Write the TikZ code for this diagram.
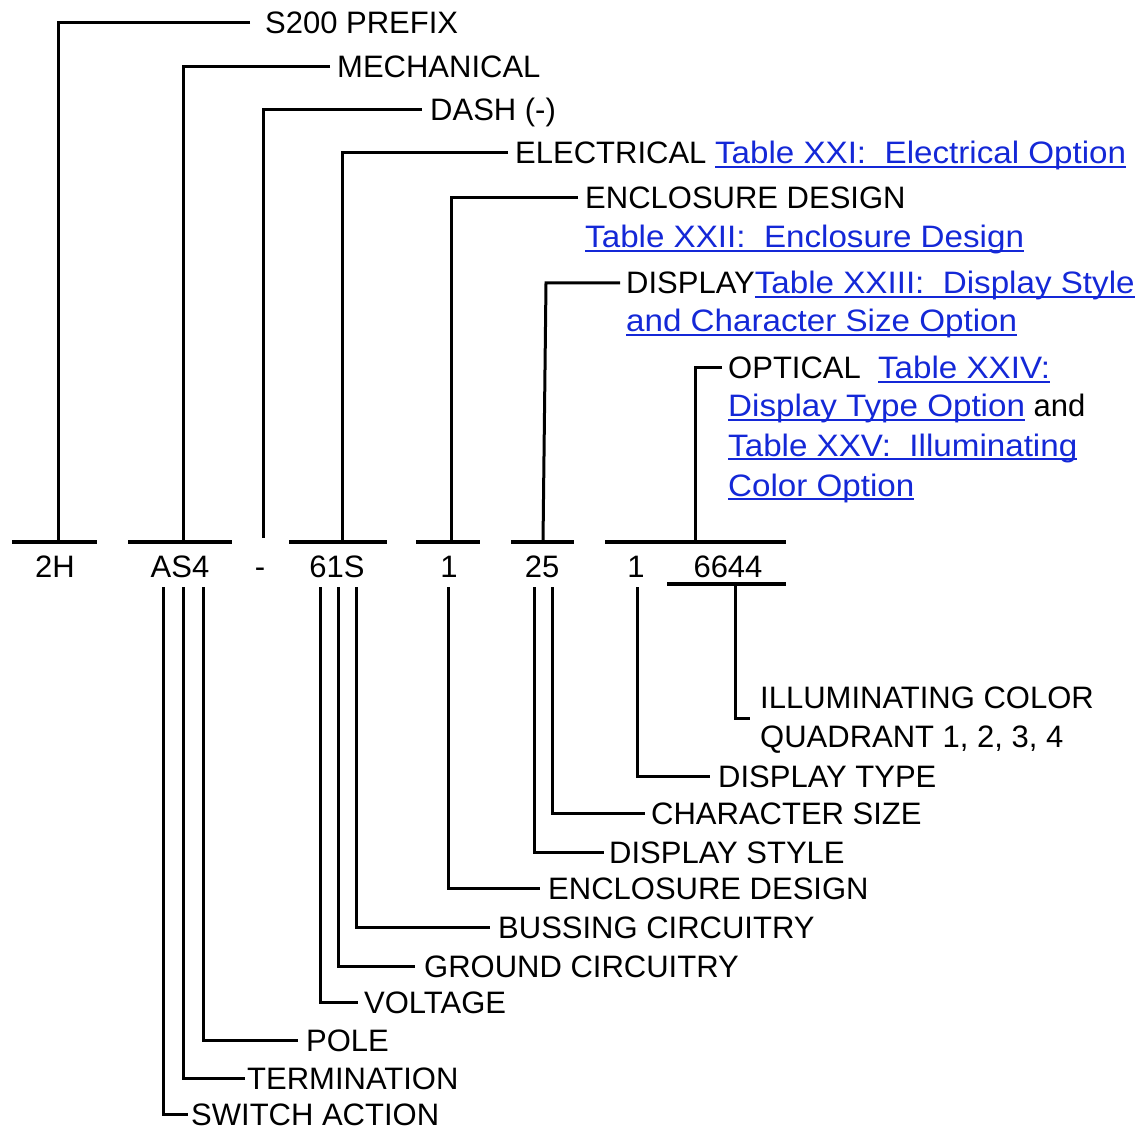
\documentclass[tikz,border=0pt]{standalone}
\usepackage{fontspec}
\setmainfont{Liberation Sans}
\newfontfamily\lnkfont[FakeStretch=1.07]{Liberation Sans}
\definecolor{linkblue}{RGB}{20,40,215}
% underlined link text
\newcommand\tbl[1]{{\lnkfont\color{linkblue}\setbox0\hbox{#1}\rlap{\rule[-4pt]{\wd0}{2pt}}\box0}}
\tikzset{
  lbl/.style={anchor=west, inner sep=0pt, text height=22pt, text depth=0pt,
    font=\fontsize{31}{37}\selectfont},
  code/.style={inner sep=0pt, text height=22pt, text depth=0pt,
    font=\fontsize{31}{37}\selectfont},
  lead/.style={line width=3pt},
  bar/.style={line width=4.5pt}
}
\begin{document}
\begin{tikzpicture}[x=1pt,y=-1pt]
  \useasboundingbox (0,0) rectangle (1143,1131);

  % Part number
  \node[code] (c2h)  at (55,566)  {2H};
  \node[code] (cas4) at (180,566) {AS4};
  \node[code] (cdsh) at (260,566) {-};
  \node[code] (c61s) at (337,566) {61S};
  \node[code] (c1)   at (449,566) {1};
  \node[code] (c25)  at (542,566) {25};
  \node[code] (c1b)  at (636,566) {1};
  \node[code] (c6644) at (728,566) {6644};

  % Bars over the groups
  \draw[bar] (12,542) -- (97,542);
  \draw[bar] (128,542) -- (232,542);
  \draw[bar] (289,542) -- (387,542);
  \draw[bar] (416,542) -- (480,542);
  \draw[bar] (511,542) -- (574,542);
  \draw[bar] (605,542) -- (786,542);
  \draw[bar] (667,584) -- (786,584);

  \coordinate (b2h)  at (58,542);
  \coordinate (bas4) at (183,542);
  \coordinate (bdsh) at (263,538);
  \coordinate (b61s) at (342,542);
  \coordinate (b1)   at (451,542);
  \coordinate (b25)  at (543,542);
  \coordinate (bopt) at (695,542);

  % Upper labels
  \node[lbl] (pfx)  at (265,23)  {S200 PREFIX};
  \node[lbl] (mech) at (337,67)  {MECHANICAL};
  \node[lbl] (dash) at (430,110) {DASH (-)};
  \node[lbl] (elec) at (515,153) {ELECTRICAL \tbl{Table XXI:\ \ Electrical Option}};
  \node[lbl] (encl) at (585,198) {ENCLOSURE DESIGN};
  \node[lbl] (t22)  at (585,237) {\tbl{Table XXII:\ \ Enclosure Design}};
  \node[lbl] (disp) at (626,283) {DISPLAY\tbl{Table XXIII:\ \ Display Style}};
  \node[lbl] (t23)  at (626,321) {\tbl{and Character Size Option}};
  \node[lbl] (opt)  at (728,368) {OPTICAL\ \ \tbl{Table XXIV:}};
  \node[lbl] (t24)  at (728,406) {\tbl{Display Type Option} and};
  \node[lbl] (t25)  at (728,445) {\tbl{Table XXV:\ \ Illuminating}};
  \node[lbl] (t25b) at (728,485) {\tbl{Color Option}};

  \draw[lead] ([xshift=-15pt]pfx.west) -| (b2h);
  \draw[lead] ([xshift=-7pt]mech.west) -| (bas4);
  \draw[lead] ([xshift=-8pt]dash.west) -| (bdsh);
  \draw[lead] ([xshift=-7pt]elec.west) -| (b61s);
  \draw[lead] ([xshift=-7pt]encl.west) -| (b1);
  \draw[lead] ([xshift=-6pt]disp.west) -- (546,283) -- (b25);
  \draw[lead] ([xshift=-6pt]opt.west) -| (bopt);

  % Lower labels
  \node[lbl] (swa)  at (191,1114) {SWITCH ACTION};
  \node[lbl] (term) at (247,1078) {TERMINATION};
  \node[lbl] (pole) at (306,1040) {POLE};
  \node[lbl] (volt) at (364,1002) {VOLTAGE};
  \node[lbl] (gnd)  at (424,966)  {GROUND CIRCUITRY};
  \node[lbl] (bus)  at (498,927)  {BUSSING CIRCUITRY};
  \node[lbl] (encb) at (548,888)  {ENCLOSURE DESIGN};
  \node[lbl] (dsty) at (609,852)  {DISPLAY STYLE};
  \node[lbl] (csz)  at (651,813)  {CHARACTER SIZE};
  \node[lbl] (dtyp) at (718,776)  {DISPLAY TYPE};
  \node[lbl] (ill)  at (760,697)  {ILLUMINATING COLOR};
  \node[lbl] (quad) at (760,736)  {QUADRANT 1, 2, 3, 4};

  \coordinate (sw)  at (163,587);
  \coordinate (tm)  at (183,587);
  \coordinate (pl)  at (203,587);
  \coordinate (vl)  at (320,587);
  \coordinate (gr)  at (338,587);
  \coordinate (bs)  at (356,587);
  \coordinate (en)  at (448,587);
  \coordinate (ds)  at (534,587);
  \coordinate (cs)  at (552,587);
  \coordinate (dt)  at (637,587);
  \coordinate (ic)  at (735,584);
  \coordinate (icend) at (750,718);

  \draw[lead] (sw) |- ([xshift=-3pt]swa.west);
  \draw[lead] (tm) |- ([xshift=-2pt]term.west);
  \draw[lead] (pl) |- ([xshift=-8pt]pole.west);
  \draw[lead] (vl) |- ([xshift=-6pt]volt.west);
  \draw[lead] (gr) |- ([xshift=-9pt]gnd.west);
  \draw[lead] (bs) |- ([xshift=-8pt]bus.west);
  \draw[lead] (en) |- ([xshift=-8pt]encb.west);
  \draw[lead] (ds) |- ([xshift=-5pt]dsty.west);
  \draw[lead] (cs) |- ([xshift=-6pt]csz.west);
  \draw[lead] (dt) |- ([xshift=-8pt]dtyp.west);
  \draw[lead] (ic) |- (icend);
\end{tikzpicture}
\end{document}
